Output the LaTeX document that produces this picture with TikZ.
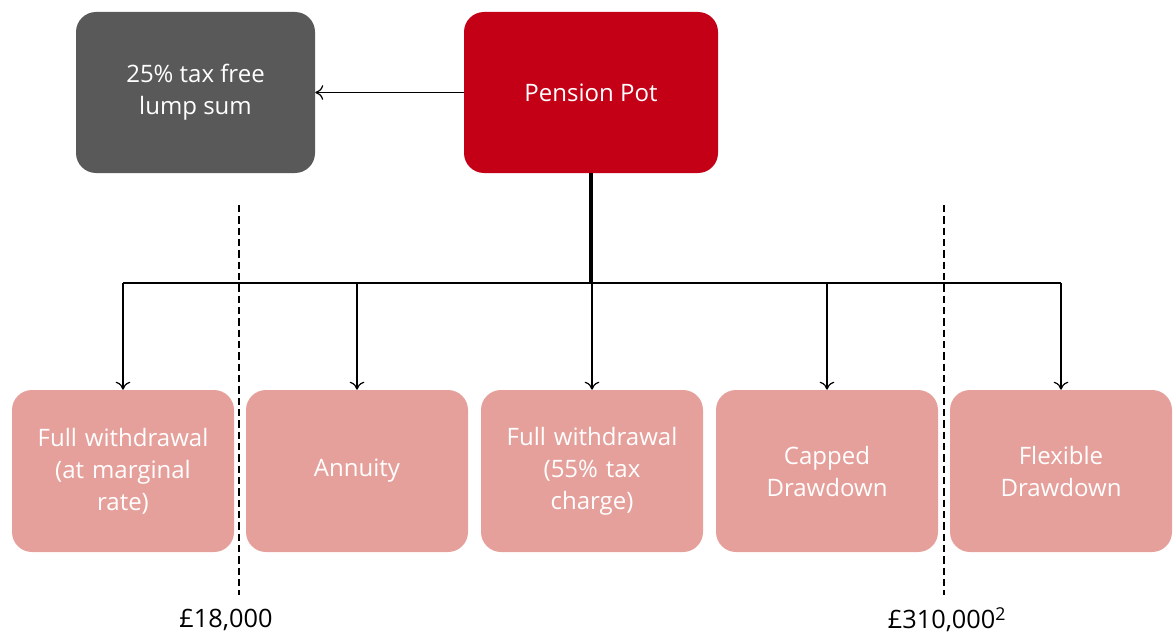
\documentclass[tikz,border=0pt]{standalone}
\usepackage{fontspec}
\setmainfont{Open Sans}
\usepackage{xcolor}
\usetikzlibrary{positioning,calc,arrows.meta}

\definecolor{potred}{RGB}{196,0,22}
\definecolor{lumpgrey}{RGB}{89,89,89}
\definecolor{optpink}{RGB}{230,160,155}

\tikzset{
    box/.style={rounded corners=15pt, text=white, align=center, font=\fontsize{18}{24}\selectfont, inner sep=2pt},
    optbox/.style={box, fill=optpink, minimum width=166.5pt, minimum height=121.5pt, text width=160pt},
    link/.style={line width=0.9pt, -{To[length=6pt,width=11pt]}},
    limit/.style={line width=1.8pt, dash pattern=on 5.5pt off 3pt},
    money/.style={font=\fontsize{19}{24}\selectfont}
}

\begin{document}
\begin{tikzpicture}[x=0.75pt,y=-0.75pt]
    \useasboundingbox (0,0) rectangle (1175,635);

    % Top boxes
    \node[box, fill=potred, minimum width=190.5pt, minimum height=120.75pt] (pot) at (591,92.5) {Pension Pot};
    \node[box, fill=lumpgrey, minimum width=179.25pt, minimum height=120.75pt] (lump) at (195.5,92.5) {25\% tax free\\lump sum};
    \draw[link] (pot.west) -- (lump.east);

    % Options
    \node[optbox] (full) at (123,471) {Full withdrawal\\(at marginal\\rate)};
    \node[optbox] (annuity) at (357,471) {Annuity};
    \node[optbox] (charge) at (592,471) {Full withdrawal\\(55\% tax\\charge)};
    \node[optbox] (capped) at (827,471) {Capped\\Drawdown};
    \node[optbox] (flex) at (1061,471) {Flexible\\Drawdown};

    % Tree
    \coordinate (hub) at (591,283);
    \draw[line width=2.4pt] (pot.south) -- (hub);
    \draw[line width=0.9pt] (full.north |- hub) -- (flex.north |- hub);
    \foreach \opt in {full,annuity,charge,capped,flex}
        \draw[link] (\opt.north |- hub) -- (\opt.north);

    % Limits
    \coordinate (lowtop) at (239,205); \coordinate (lowbot) at (239,595);
    \coordinate (hightop) at (944,205); \coordinate (highbot) at (944,595);
    \draw[limit] (lowtop) -- (lowbot);
    \draw[limit] (hightop) -- (highbot);
    \node[money] (low) at (226,620) {£18,000};
    \node[money] (high) at (947,620) {£310,000\textsuperscript{2}};
\end{tikzpicture}
\end{document}
